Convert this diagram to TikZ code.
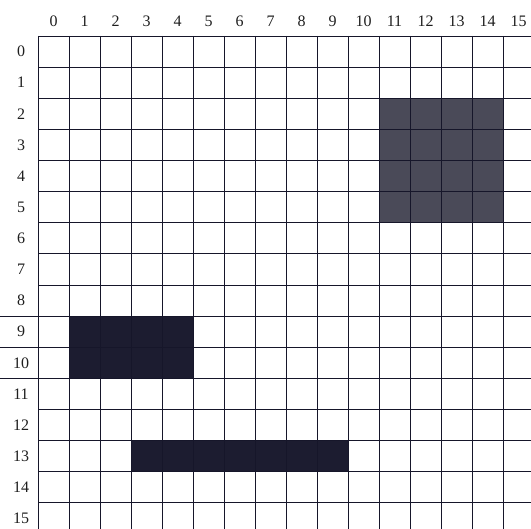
\documentclass[tikz,border=0pt]{standalone}
\usepackage{fontspec}
\setmainfont{Liberation Serif}
\definecolor{linecol}{HTML}{16162A}
\definecolor{labcol}{HTML}{1E1E1E}
\definecolor{darkfill}{HTML}{1C1C30}
\definecolor{grayfill}{HTML}{4A4A58}
\begin{document}
\begin{tikzpicture}[x=1pt,y=-1pt,
  gridline/.style={line width=0.9pt, draw=linecol},
  lab/.style={font=\fontsize{16}{16}\selectfont, text=labcol, inner sep=0pt},
  darkbox/.style={fill=darkfill},
  graybox/.style={fill=grayfill}]
\useasboundingbox (0,0) rectangle (531,529);
\begin{scope}
\clip (0,0) rectangle (531,529);
% shaded blocks
\fill[graybox] ({38+11*31},{36+2*31.13}) rectangle ({38+15*31},{36+6*31.13});
\fill[darkbox] ({38+1*31},{36+9*31.13}) rectangle ({38+5*31},{36+11*31.13});
\fill[darkbox] ({38+3*31},{36+13*31.13}) rectangle ({38+10*31},{36+14*31.13});
% grid
\foreach \i in {0,...,16}
  \draw[gridline] ({38+\i*31},36) -- ({38+\i*31},529);
\foreach \j in {0,...,16}
  \draw[gridline] (38,{36+\j*31.13}) -- (531,{36+\j*31.13});
\foreach \j in {9,10,11}
  \draw[gridline] (0,{36+\j*31.13}) -- (38,{36+\j*31.13});
\end{scope}
% labels
\foreach \i in {0,...,15}
  \node[lab] (c\i) at ({53.5+\i*31},21) {\i};
\foreach \i in {0,...,15}
  \node[lab] (r\i) at (21,{36+15.5+\i*31.13}) {\i};
\end{tikzpicture}
\end{document}
